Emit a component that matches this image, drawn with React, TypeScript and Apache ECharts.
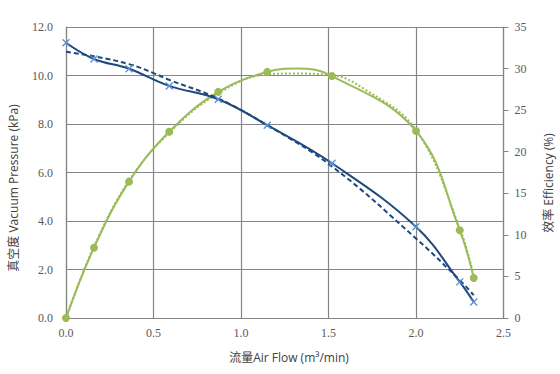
import React, { useEffect, useRef } from "react";
import * as echarts from "echarts";

const flow = [0, 0.16, 0.36, 0.59, 0.87, 1.15, 1.52, 2.0, 2.25, 2.33];
const pressure = [11.35, 10.68, 10.28, 9.57, 9.02, 7.95, 6.38, 3.76, 1.49, 0.66];
const efficiency = [0, 8.46, 16.4, 22.4, 27.2, 29.6, 29.1, 22.5, 10.55, 4.81];

// efficiency curve (includes its peak)
const effCurveX = [0, 0.16, 0.36, 0.59, 0.87, 1.15, 1.32, 1.52, 2.0, 2.25, 2.33];
const effCurve = [0, 8.46, 16.4, 22.4, 27.2, 29.6, 30.0, 29.1, 22.5, 10.55, 4.81];

const pressureTrendX = [0, 0.16, 0.36, 0.5, 0.59, 0.87, 1.15, 1.52, 2.0, 2.25, 2.33];
const pressureTrend = [10.98, 10.79, 10.47, 10.1, 9.82, 9.05, 7.95, 6.25, 3.28, 1.56, 0.94];

const effTrendX = [0, 0.16, 0.36, 0.59, 0.87, 1.15, 1.3, 1.52, 1.7, 2.0, 2.25, 2.33];
const effTrend = [0, 8.6, 16.5, 22.3, 27.0, 29.3, 29.4, 29.2, 27.6, 22.6, 10.8, 5.0];

const xTicks = { min: 0, max: 2.5, interval: 0.5 };
const leftTicks = { min: 0, max: 12, interval: 2 };
const rightTicks = { min: 0, max: 35, interval: 5 };

const xTitle = "流量Air Flow (m³/min)";
const leftTitle = "真空度 Vacuum Pressure (kPa)";
const rightTitle = "效率 Efficiency (%)";

const zip = (xs: number[], ys: number[]) => xs.map((x, i) => [x, ys[i]]);

export default function App() {
  const ref = useRef<HTMLDivElement>(null);
  useEffect(() => {
    if (!ref.current) return;
    const chart = echarts.init(ref.current, null, { renderer: "svg" });
    const gridColor = "#858585";
    const labelFont = {
      fontFamily: "Times New Roman",
      fontSize: 12,
      color: "#595959",
    };
    const titleStyle = {
      fontFamily: "'Open Sans', 'Noto Sans CJK SC', sans-serif",
      fontSize: 12,
      fill: "#404040",
      align: "center",
      verticalAlign: "middle",
    };
    chart.setOption({
      animation: false,
      backgroundColor: "#ffffff",
      grid: { left: 66, right: 56.5, top: 27, bottom: 56 },
      xAxis: {
        type: "value",
        ...xTicks,
        axisLine: { show: true, lineStyle: { color: gridColor, width: 1.2 } },
        axisTick: { show: false },
        splitLine: { show: true, lineStyle: { color: gridColor, width: 1.2 } },
        axisLabel: { ...labelFont, margin: 9, formatter: (v: number) => v.toFixed(1) },
      },
      yAxis: [
        {
          type: "value",
          ...leftTicks,
          position: "left",
          axisLine: { show: true, lineStyle: { color: gridColor, width: 1.2 } },
          axisTick: { show: false },
          splitLine: { show: true, lineStyle: { color: gridColor, width: 1.2 } },
          axisLabel: { ...labelFont, margin: 13, formatter: (v: number) => v.toFixed(1) },
        },
        {
          type: "value",
          ...rightTicks,
          position: "right",
          axisLine: { show: true, lineStyle: { color: gridColor, width: 1.2 } },
          axisTick: { show: true, length: 5, lineStyle: { color: gridColor } },
          splitLine: { show: false },
          axisLabel: { ...labelFont, margin: 11 },
        },
      ],
      series: [
        {
          type: "line",
          yAxisIndex: 1,
          data: zip(effTrendX, effTrend),
          smooth: 0.4,
          symbol: "none",
          lineStyle: { color: "#9bbb59", width: 2, type: [2, 2] },
          z: 2,
        },
        {
          type: "line",
          yAxisIndex: 1,
          data: zip(effCurveX, effCurve),
          smooth: 0.4,
          symbol: "none",
          lineStyle: { color: "#9bbb59", width: 2 },
          z: 3,
        },
        {
          type: "scatter",
          yAxisIndex: 1,
          data: zip(flow, efficiency),
          symbol: "circle",
          symbolSize: 8,
          itemStyle: { color: "#9bbb59", opacity: 1 },
          z: 4,
        },
        {
          type: "line",
          yAxisIndex: 0,
          data: zip(pressureTrendX, pressureTrend),
          smooth: 0.4,
          symbol: "none",
          lineStyle: { color: "#1f497d", width: 2, type: [5, 3] },
          z: 5,
        },
        {
          type: "line",
          yAxisIndex: 0,
          data: zip(flow, pressure),
          smooth: 0.4,
          symbol: "path://M0,0L10,10M10,0L0,10",
          symbolSize: 7,
          itemStyle: { color: "#5b8fd4", borderColor: "#5b8fd4", borderWidth: 1.3 },
          lineStyle: { color: "#1f497d", width: 2 },
          z: 6,
        },
      ],
      graphic: [
        {
          type: "text",
          x: 289,
          y: 357,
          style: { text: xTitle, ...titleStyle },
        },
        {
          type: "text",
          x: 13,
          y: 188,
          rotation: Math.PI / 2,
          style: { text: leftTitle, ...titleStyle },
        },
        {
          type: "text",
          x: 548,
          y: 183,
          rotation: Math.PI / 2,
          style: { text: rightTitle, ...titleStyle },
        },
      ],
    });
    return () => chart.dispose();
  }, []);
  return (
    <div
      ref={ref}
      style={{ position: "absolute", left: 0, top: 0, width: 560, height: 374 }}
    />
  );
}
